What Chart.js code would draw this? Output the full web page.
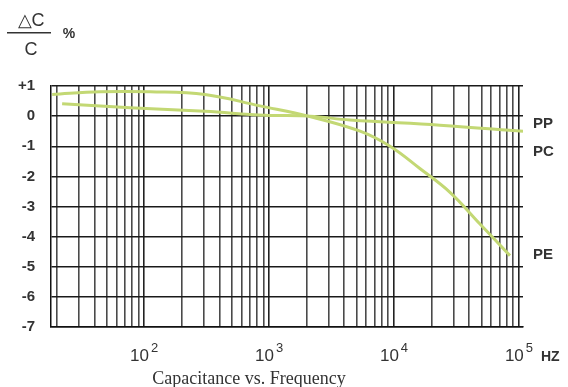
<!DOCTYPE html>
<html>
<head>
<meta charset="utf-8">
<script src="https://cdn.jsdelivr.net/npm/chart.js@4/dist/chart.umd.min.js"></script>
<style>
  html, body { margin: 0; padding: 0; background: #ffffff; }
  #wrap { width: 568px; height: 387px; position: relative; }
</style>
</head>
<body>
<div id="wrap"><canvas id="chart"></canvas></div>
<script>
// curva PE (la que cae fuerte) y curva PP/PC (la casi plana)
const FREQ_PE = [18.4, 44.5, 112, 307, 847, 2050, 5350, 9290, 16100, 28050, 48750, 84700];
const DELTA_PE = [0.72, 0.81, 0.81, 0.72, 0.34, 0, -0.5, -1.0, -1.74, -2.53, -3.58, -4.63];
const FREQ_PP = [22.1, 77.3, 307, 929, 2130, 4450, 23300, 107700];
const DELTA_PP = [0.41, 0.28, 0.16, 0.03, 0, -0.13, -0.3, -0.5];

const Y_TICKS = [1, 0, -1, -2, -3, -4, -5, -6, -7];
const X_DECADES = [2, 3, 4, 5];
const SERIE_LABELS = [["PP", -0.25], ["PC", -1.2], ["PE", -4.6]];

const X_MIN = 18;
const X_MAX = 107700;
const COLOR_CURVA = "#c3d874";
const COLOR_TEXTO = "#333333";

function puntos(xs, ys) {
  return xs.map((x, i) => ({ x: x, y: ys[i] }));
}

function ticksLog() {
  const ticks = [];
  for (let e = 1; e <= 5; e += 1) {
    for (let m = 1; m <= 9; m += 1) {
      const v = m * Math.pow(10, e);
      if (v >= X_MIN && v <= X_MAX) ticks.push({ value: v });
    }
  }
  return ticks;
}

function esDecada(v) {
  const l = Math.log10(v);
  return Math.abs(l - Math.round(l)) < 1e-9;
}

const pluginTextos = {
  id: "textos",
  afterDraw(chart) {
    const { ctx } = chart;
    const x = chart.scales.x;
    const y = chart.scales.y;
    ctx.save();
    ctx.fillStyle = COLOR_TEXTO;
    ctx.textBaseline = "alphabetic";

    // etiquetas 10^n
    X_DECADES.forEach((n) => {
      const px = x.getPixelForValue(Math.pow(10, n));
      ctx.font = "17px 'Liberation Sans', Arial, sans-serif";
      const w1 = ctx.measureText("10").width;
      ctx.font = "13px 'Liberation Sans', Arial, sans-serif";
      const w2 = ctx.measureText(String(n)).width;
      const inicio = px - (w1 + 2 + w2) / 2;
      ctx.textAlign = "left";
      ctx.font = "17px 'Liberation Sans', Arial, sans-serif";
      ctx.fillText("10", inicio, 361);
      ctx.font = "13px 'Liberation Sans', Arial, sans-serif";
      ctx.fillText(String(n), inicio + w1 + 2, 352);
    });
    ctx.font = "bold 14px 'Liberation Sans', Arial, sans-serif";
    ctx.textAlign = "left";
    ctx.fillText("HZ", 541, 361);

    // nombres de las series
    ctx.font = "bold 15px 'Liberation Sans', Arial, sans-serif";
    ctx.textBaseline = "middle";
    SERIE_LABELS.forEach(([txt, v]) => {
      ctx.fillText(txt, 533, y.getPixelForValue(v));
    });

    // titulo del eje y
    ctx.textAlign = "center";
    ctx.font = "18px 'Liberation Sans', Arial, sans-serif";
    ctx.fillText("\u25B3C", 31, 21);
    ctx.fillText("C", 31, 50);
    ctx.fillRect(7, 32, 44, 1.5);
    ctx.font = "bold 14px 'Liberation Sans', Arial, sans-serif";
    ctx.fillText("%", 69, 34);

    // titulo inferior
    ctx.font = "18px 'Liberation Serif', 'Times New Roman', serif";
    ctx.textBaseline = "alphabetic";
    ctx.fillText("Capacitance vs. Frequency", 249, 384);
    ctx.restore();
  }
};

const config = {
  type: "line",
  data: {
    datasets: [
      {
        label: "PE",
        data: puntos(FREQ_PE, DELTA_PE),
        borderColor: COLOR_CURVA,
        borderWidth: 3,
        pointRadius: 0,
        tension: 0.4,
        fill: false
      },
      {
        label: "PP",
        data: puntos(FREQ_PP, DELTA_PP),
        borderColor: COLOR_CURVA,
        borderWidth: 3,
        pointRadius: 0,
        tension: 0.4,
        fill: false
      }
    ]
  },
  options: {
    responsive: true,
    maintainAspectRatio: false,
    animation: false,
    layout: {
      padding: { left: 0, top: 86, right: 45, bottom: 0 }
    },
    plugins: {
      legend: { display: false },
      tooltip: { enabled: false }
    },
    scales: {
      x: {
        type: "logarithmic",
        min: X_MIN,
        max: X_MAX,
        afterBuildTicks(scale) {
          scale.ticks = ticksLog();
        },
        afterFit(scale) {
          scale.height = 60;
        },
        ticks: { display: false },
        grid: {
          drawTicks: false,
          color(c) {
            return c.tick && esDecada(c.tick.value) ? "#222222" : "#4a4a4a";
          },
          lineWidth: 1.6
        },
        border: { color: "#111111", width: 1.5 }
      },
      y: {
        min: -7,
        max: 1,
        afterBuildTicks(scale) {
          scale.ticks = Y_TICKS.map((v) => ({ value: v }));
        },
        afterFit(scale) {
          scale.width = 51;
        },
        ticks: {
          padding: 16,
          color: COLOR_TEXTO,
          font: { family: "'Liberation Sans', Arial, sans-serif", size: 15, weight: "bold" },
          callback(v) {
            return v > 0 ? "+" + v : String(v);
          }
        },
        grid: {
          drawTicks: false,
          color: "#1a1a1a",
          lineWidth: 1.5
        },
        border: { color: "#111111", width: 1.5 }
      }
    }
  },
  plugins: [pluginTextos]
};

new Chart(document.getElementById("chart"), config);
</script>
</body>
</html>
